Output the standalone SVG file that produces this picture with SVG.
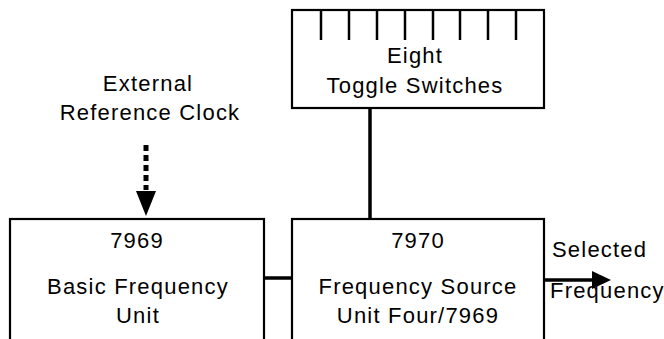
<svg xmlns="http://www.w3.org/2000/svg" width="664" height="339" viewBox="0 0 664 339">
<style>
.box{fill:#fff;stroke:#000;stroke-width:2.2}
.t{font-family:"Liberation Sans",Arial,sans-serif;font-size:22px;fill:#000;letter-spacing:1.2px}
.c{text-anchor:middle}
.tick{stroke:#000;stroke-width:2.5}
.conn{stroke:#000;stroke-width:3.5;fill:none}
</style>
<defs>
<marker id="ah" markerWidth="10" markerHeight="10" refX="0" refY="5" orient="auto" markerUnits="userSpaceOnUse" viewBox="0 0 10 10">
<path d="M0,0 L10,5 L0,10 Z" fill="#000"/>
</marker>
</defs>
<rect width="664" height="339" fill="#fff"/>
<g id="connectors">
<line class="conn" x1="370" y1="108" x2="370" y2="219"/>
<line class="conn" x1="264" y1="278" x2="292" y2="278"/>
<line class="conn" x1="544" y1="280" x2="594" y2="280"/>
<path d="M592,271 L611,280 L592,289 Z" fill="#000"/>
<line x1="146" y1="145" x2="146" y2="190" stroke="#000" stroke-width="5" stroke-dasharray="6,4"/>
<path d="M136,191 L156,191 L146,216 Z" fill="#000"/>
</g>
<g id="clock-label">
<text class="t c" x="148" y="91">External</text>
<text class="t c" x="150" y="120">Reference Clock</text>
</g>
<g id="toggle-switches">
<rect class="box" x="292" y="10" width="252" height="98"/>
<line class="tick" x1="321" y1="10" x2="321" y2="40"/>
<line class="tick" x1="349" y1="10" x2="349" y2="40"/>
<line class="tick" x1="377" y1="10" x2="377" y2="40"/>
<line class="tick" x1="405" y1="10" x2="405" y2="40"/>
<line class="tick" x1="433" y1="10" x2="433" y2="40"/>
<line class="tick" x1="460" y1="10" x2="460" y2="40"/>
<line class="tick" x1="488" y1="10" x2="488" y2="40"/>
<line class="tick" x1="516" y1="10" x2="516" y2="40"/>
<text class="t c" x="415" y="63">Eight</text>
<text class="t c" x="415" y="93">Toggle Switches</text>
</g>
<g id="unit-7969">
<rect class="box" x="10" y="219" width="254" height="140"/>
<text class="t c" x="137" y="248">7969</text>
<text class="t c" x="138" y="294">Basic Frequency</text>
<text class="t c" x="138" y="323">Unit</text>
</g>
<g id="unit-7970">
<rect class="box" x="292" y="219" width="252" height="140"/>
<text class="t c" x="418" y="248">7970</text>
<text class="t c" x="418" y="294">Frequency Source</text>
<text class="t c" x="418" y="323">Unit Four/7969</text>
</g>
<g id="output-label">
<text class="t" x="552" y="257">Selected</text>
<text class="t" x="550" y="298">Frequency</text>
</g>
</svg>
